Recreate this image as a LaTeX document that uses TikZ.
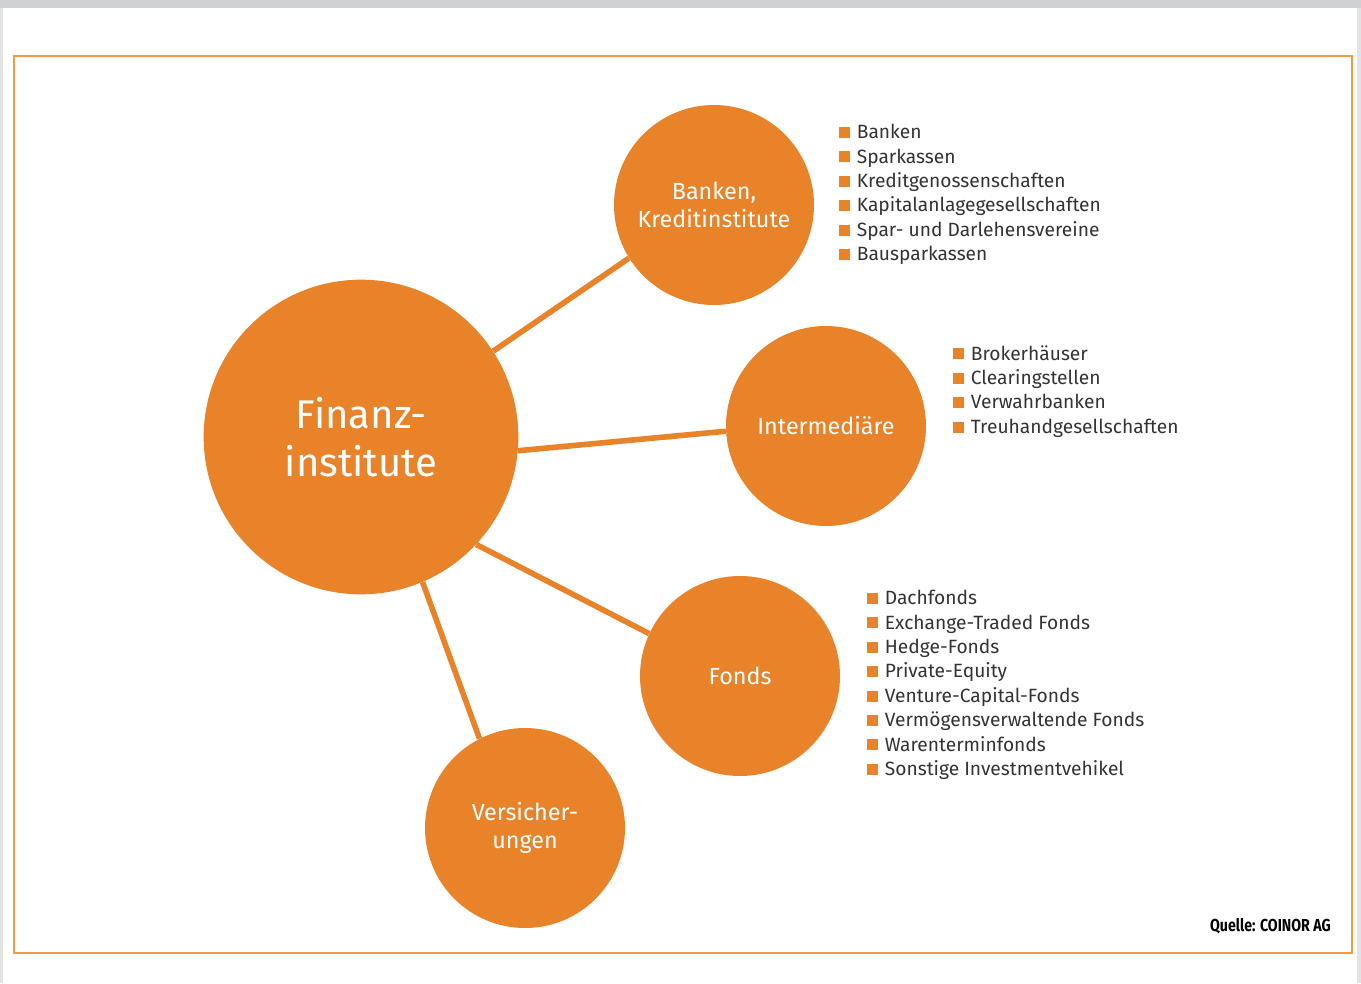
\documentclass[tikz,border=0pt]{standalone}
\usepackage{fontspec}
\setmainfont{Fira Sans}
\newfontfamily\sourcefont[FakeStretch=0.82]{Fira Sans}
\usetikzlibrary{positioning}
\definecolor{finorange}{HTML}{E8832A}
\definecolor{frameorange}{HTML}{F39B3F}
\definecolor{listgray}{HTML}{333333}
\definecolor{edgegray}{HTML}{D0D1D3}
\newcommand{\sq}{\textcolor{finorange}{\rule[0.5pt]{8.2pt}{8.2pt}}\hspace{5pt}}
\tikzset{
institut/.style={circle, fill=finorange, text=white, align=center, inner sep=0pt, minimum size=150pt, font=\fontsize{17.5}{21.5}\selectfont}, % the small circles
haupt/.style={institut, minimum size=236pt, font=\fontsize{30}{36}\selectfont}, % the big circle
link/.style={draw=finorange, line width=4.2pt}, % connectors between the circles
liste/.style={anchor=north west, align=left, inner sep=0pt, text=listgray, font=\fontsize{14.4}{18.3}\selectfont}, % bullet lists
}
\begin{document}
\begin{tikzpicture}[x=0.75pt, y=-0.75pt]
            \useasboundingbox (0,0) rectangle (1361,983);
            % page edges and frame
            \fill[edgegray] (0,0) rectangle (1361,8);
            \fill[edgegray!60] (0,8) rectangle (3,983);
            \fill[edgegray!60] (1357,8) rectangle (1361,983);
            \draw[frameorange, line width=1.8pt] (14,56) rectangle (1352,953);

            \node[haupt] (fin) at (361,437) {Finanz-\\institute};
            \node[institut] (bank) at (714,205) {Banken,\\Kreditinstitute};
            \node[institut] (inter) at (826,426) {Intermediäre};
            \node[institut] (fonds) at (740,676) {Fonds};
            \node[institut] (vers) at (525,828) {Versicher-\\ungen};

            \draw[link] (fin.33) -- (bank.212);
            \draw[link] (fin.-5) -- (inter.183);
            \draw[link] (fin.-43.5) -- (fonds.155);
            \draw[link] (fin.-67.5) -- (vers.117);

            \node[liste] (bankliste) at (839,124) {\sq Banken\\ \sq Sparkassen\\ \sq Kreditgenossenschaften\\ \sq Kapitalanlagegesellschaften\\ \sq Spar- und Darlehensvereine\\ \sq Bausparkassen};
            \node[liste] (interliste) at (953,345) {\sq Brokerhäuser\\ \sq Clearingstellen\\ \sq Verwahrbanken\\ \sq Treuhandgesellschaften};
            \node[liste] (fondsliste) at (867,590) {\sq Dachfonds\\ \sq Exchange-Traded Fonds\\ \sq Hedge-Fonds\\ \sq Private-Equity\\ \sq Venture-Capital-Fonds\\ \sq Vermögensverwaltende Fonds\\ \sq Warenterminfonds\\ \sq Sonstige Investmentvehikel};

            \node[anchor=east, inner sep=0pt, font=\sourcefont\bfseries\fontsize{13}{15}\selectfont] (quelle) at (1331,926) {Quelle: COINOR AG};
        \end{tikzpicture}
\end{document}
